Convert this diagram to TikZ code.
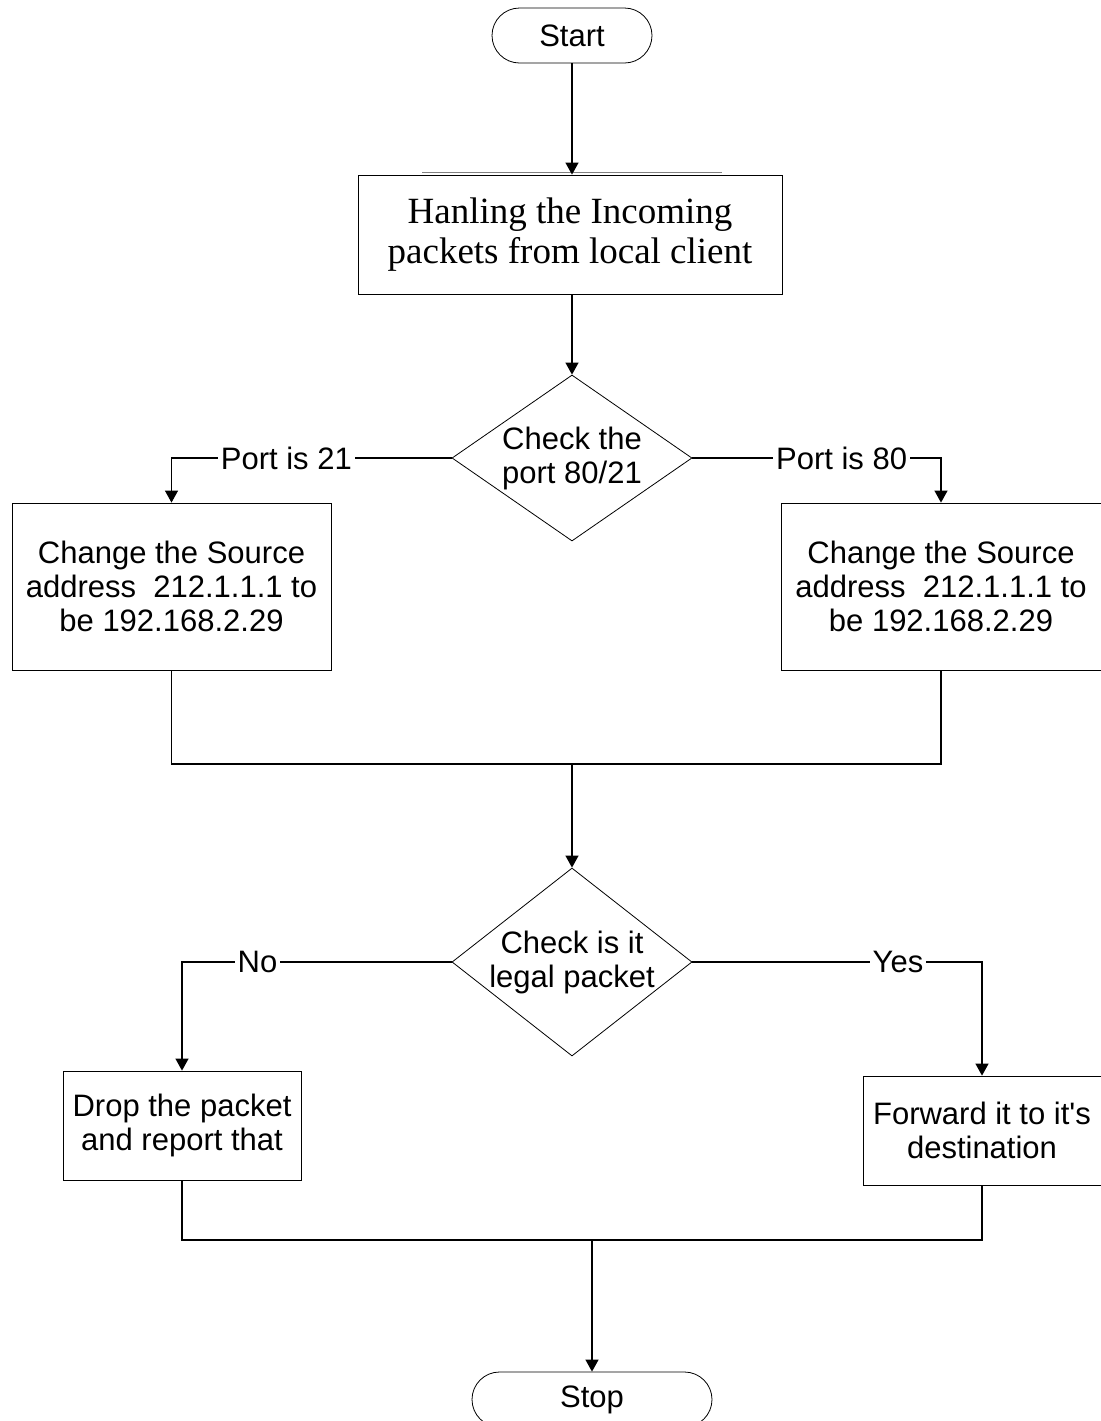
\documentclass[tikz,border=0pt]{standalone}
\usepackage{fontspec}
\setmainfont{Liberation Serif}
\newfontfamily\arialfont{Liberation Sans}
\usetikzlibrary{shapes.geometric,arrows.meta}

\tikzset{
  sansfont/.style={font=\arialfont\fontsize{15.5}{17}\selectfont},
  terminal/.style={draw, rounded corners=13.75pt, minimum width=80pt, minimum height=27.5pt, inner sep=0pt, sansfont},
  process/.style={draw, align=center, inner sep=0pt, sansfont},
  decision/.style={draw, diamond, aspect=1.3, inner sep=-4pt, align=center, minimum width=120pt, sansfont},
  edgetext/.style={fill=white, inner sep=1.5pt, sansfont},
  line/.style={draw, line width=0.6pt},
  arrow/.style={line, -{Triangle[width=6.5pt,length=6pt]}}
}

\begin{document}
\begin{tikzpicture}[x=0.5pt, y=-0.5pt]
\useasboundingbox (0,0) rectangle (1100,1421);

%Nodes
\node[terminal] (start) at (572,35.5) {Start};
\node[process, minimum width=212pt, minimum height=59.5pt, font=\fontsize{18.5}{20}\selectfont] (handle) at (570,234.5) {Hanling the Incoming\\packets from local client};
\node[decision, minimum height=83pt] (port) at (572,458) {Check the\\port 80/21};
\node[process, minimum width=159.5pt, minimum height=83.5pt] (srcL) at (171.5,586.5) {Change the Source\\address\ \ 212.1.1.1 to\\be 192.168.2.29};
\node[process, minimum width=160pt, minimum height=83.5pt] (srcR) at (941,586.5) {Change the Source\\address\ \ 212.1.1.1 to\\be 192.168.2.29};
\coordinate (join1) at (572,764);
\node[decision, minimum height=94pt] (legal) at (572,962) {Check is it\\legal packet};
\node[process, minimum width=119pt, minimum height=54.5pt] (drop) at (182,1125.5) {Drop the packet\\and report that};
\node[process, minimum width=119pt, minimum height=54.5pt] (fwd) at (982,1130.5) {Forward it to it's\\destination};
\coordinate (join2) at (592,1240);
\node[terminal, minimum width=120pt] (stop) at (592,1399.5) {Stop};

%Thin line over the first box
\draw[gray, line width=0.4pt] ([xshift=-74pt,yshift=1pt]handle.north) -- ([xshift=76pt,yshift=1pt]handle.north);

%Connectors
\draw[arrow] (start) -- (start |- handle.north);
\draw[arrow] (handle.south -| port) -- (port);
\draw[arrow] (port.west) -| node[edgetext, pos=0.295] {Port is 21} (srcL.north);
\draw[arrow] (port.east) -| node[edgetext, pos=0.3] {Port is 80} (srcR.north);
\draw[line] (srcL.south) |- (join1) -| (srcR.south);
\draw[arrow] (join1) -- (legal);
\draw[arrow] (legal.west) -| node[edgetext, pos=0.36] {No} (drop.north);
\draw[arrow] (legal.east) -| node[edgetext, pos=0.355] {Yes} (fwd.north);
\draw[line] (drop.south) |- (join2) -| (fwd.south);
\draw[arrow] (join2) -- (stop);

\end{tikzpicture}
\end{document}
